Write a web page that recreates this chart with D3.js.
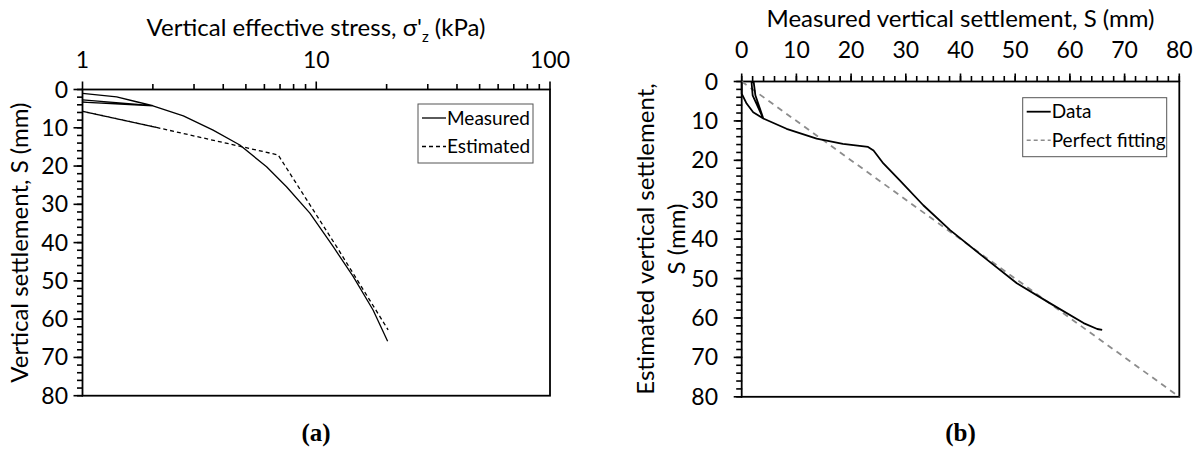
<!DOCTYPE html>
<html>
<head>
<meta charset="utf-8">
<script src="https://cdn.jsdelivr.net/npm/d3@7"></script>
<style>
  body { margin: 0; background: #fff; }
  svg { display: block; }
  text { font-family: Lato, "Open Sans", sans-serif; fill: #000; }
</style>
</head>
<body>
<svg id="chart" width="1198" height="453"></svg>
<script>
// (a) settlement vs stress, log x
var stressTicks = [1, 10, 100];
var settleTicks = [0, 10, 20, 30, 40, 50, 60, 70, 80];
var measuredStress = [1, 1.4, 1.7, 2, 1, 2, 1, 2, 2.7, 3.62, 4.71, 6.13, 7.46, 9.39, 11.8, 14.4, 17.5, 20.2];
var measuredSettle = [1.0, 1.9, 3.2, 4.2, 2.7, 4.2, 3.3, 4.3, 6.9, 10.6, 14.5, 20.2, 25.4, 32.3, 41.0, 48.9, 57.6, 65.8];
var estimatedStress = [1, 2.07, 1, 2.07, 1, 2.07, 6.87, 12.2, 20.3];
var estimatedSettle = [5.7, 9.9, 5.7, 9.9, 5.7, 9.9, 17.1, 41.0, 62.8];

// (b) estimated vs measured
var sTicks = [0, 10, 20, 30, 40, 50, 60, 70, 80];
var dataMeasured = [0, 0, 0.9, 2.1, 3.95, 2.0, 1.8, 2.2, 2.5, 3.95, 8.2, 13.7, 18.5, 23.1, 24.1, 25.9, 28.9, 33.2, 38.1, 44.2, 50.3, 56.4, 62.5, 65.0, 65.9];
var dataEstimated = [0, 3.1, 5.6, 7.8, 9.4, 3.5, 0.2, 0.2, 3.5, 9.4, 12.0, 14.5, 15.8, 16.6, 17.5, 20.8, 25.1, 31.4, 37.7, 44.5, 51.2, 56.3, 61.3, 62.8, 63.0];
var perfectLine = [0, 80];

var svg = d3.select('#chart');
svg.append('rect').attr('width', 1198).attr('height', 453).attr('fill', '#fff');

var TICK_FS = 23;
var TITLE_FS = 24;
var LEG_FS = 19;

var minorStress = [];
[1, 10].forEach(function(d) { for(var k = 2; k <= 9; k++) minorStress.push(d * k); });

var xa = d3.scaleLog().domain([1, 100]).range([82.5, 550]);
var ya = d3.scaleLinear().domain([0, 80]).range([89.5, 395.7]);
var xb = d3.scaleLinear().domain([0, 80]).range([741.7, 1179.3]);
var yb = d3.scaleLinear().domain([0, 80]).range([81.5, 396.8]);

function topLabels(g, scale, values, y) {
    g.append('g').selectAll('text').data(values).enter().append('text')
        .attr('x', function(v) { return scale(v); }).attr('y', y)
        .attr('text-anchor', 'middle').attr('font-size', TICK_FS)
        .text(function(v) { return String(v); });
}
function leftLabels(g, scale, values, x) {
    g.append('g').selectAll('text').data(values).enter().append('text')
        .attr('x', x).attr('y', function(v) { return scale(v); })
        .attr('dy', '0.35em').attr('text-anchor', 'end').attr('font-size', TICK_FS)
        .text(function(v) { return String(v); });
}
function topTicks(g, scale, values, y, len) {
    g.append('g').selectAll('line').data(values).enter().append('line')
        .attr('x1', function(v) { return scale(v); }).attr('x2', function(v) { return scale(v); })
        .attr('y1', y + 0.5).attr('y2', y - len)
        .attr('stroke', '#000').attr('stroke-width', 1.6);
}
function leftTicks(g, scale, values, x, len) {
    g.append('g').selectAll('line').data(values).enter().append('line')
        .attr('y1', function(v) { return scale(v); }).attr('y2', function(v) { return scale(v); })
        .attr('x1', x + 0.5).attr('x2', x - len)
        .attr('stroke', '#000').attr('stroke-width', 1.6);
}
function frame(g, xs, ys) {
    var r = xs.range(), s = ys.range();
    g.append('rect').attr('x', r[0]).attr('y', s[0])
        .attr('width', r[1] - r[0]).attr('height', s[1] - s[0])
        .attr('fill', 'none').attr('stroke', '#000').attr('stroke-width', 1.8);
}

function legend(g, x, y, w, h, items) {
    g.append('rect').attr('x', x).attr('y', y).attr('width', w).attr('height', h)
        .attr('fill', '#fff').attr('stroke', '#555').attr('stroke-width', 1);
    items.forEach(function(it, i) {
        var ly = y + 14 + i * 28.5;
        g.append('line').attr('x1', x + 4).attr('x2', x + 28).attr('y1', ly).attr('y2', ly)
            .attr('stroke', it.color).attr('stroke-width', it.width)
            .attr('stroke-dasharray', it.dash || null);
        g.append('text').attr('x', x + 29).attr('y', ly + 6.5).attr('font-size', LEG_FS).text(it.name);
    });
}

// ---------- panel (a) ----------
var ga = svg.append('g');

topTicks(ga, xa, minorStress, 89.5, 5.5);
topTicks(ga, xa, stressTicks, 89.5, 8);
leftTicks(ga, ya, d3.range(0, 81, 2), 82.5, 5.5);
leftTicks(ga, ya, settleTicks, 82.5, 9);
frame(ga, xa, ya);
topLabels(ga, xa, stressTicks, 68);
leftLabels(ga, ya, settleTicks, 68);

var lineA = d3.line().x(function(d) { return xa(d[0]); }).y(function(d) { return ya(d[1]); });
ga.append('path')
    .datum(measuredStress.map(function(s, i) { return [s, measuredSettle[i]]; }))
    .attr('d', lineA).attr('fill', 'none').attr('stroke', '#000').attr('stroke-width', 1.3)
    .attr('stroke-linejoin', 'round');
ga.append('path')
    .datum(estimatedStress.map(function(s, i) { return [s, estimatedSettle[i]]; }))
    .attr('d', lineA).attr('fill', 'none').attr('stroke', '#000').attr('stroke-width', 1.3)
    .attr('stroke-dasharray', '4,3');

var ta = ga.append('text').attr('x', 316).attr('y', 36).attr('text-anchor', 'middle').attr('font-size', TITLE_FS);
ta.append('tspan').text('Vertical effective stress, \u03c3\'');
ta.append('tspan').attr('font-size', 15).attr('dy', 6).text('z');
ta.append('tspan').attr('dy', -6).text(' (kPa)');

ga.append('text').attr('transform', 'translate(28,242.6) rotate(-90)')
    .attr('text-anchor', 'middle').attr('font-size', TITLE_FS).text('Vertical settlement, S (mm)');

legend(ga, 418, 104, 115, 59, [
    {name: 'Measured', color: '#000', width: 1.3},
    {name: 'Estimated', color: '#000', width: 1.3, dash: '4,3'}
]);

ga.append('text').attr('x', 316).attr('y', 441).attr('text-anchor', 'middle')
    .style('font-family', '"Liberation Serif", serif').attr('font-weight', 'bold').attr('font-size', 25).text('(a)');

// ---------- panel (b) ----------
var gb = svg.append('g');

topTicks(gb, xb, d3.range(0, 81, 2), 81.5, 5.5);
topTicks(gb, xb, sTicks, 81.5, 8);
leftTicks(gb, yb, d3.range(0, 81, 2), 741.7, 5.5);
leftTicks(gb, yb, sTicks, 741.7, 8);
frame(gb, xb, yb);
topLabels(gb, xb, sTicks, 58);
leftLabels(gb, yb, sTicks, 718);

var lineB = d3.line().x(function(d) { return xb(d[0]); }).y(function(d) { return yb(d[1]); });
gb.append('path')
    .datum(perfectLine.map(function(v) { return [v, v]; }))
    .attr('d', lineB).attr('fill', 'none').attr('stroke', '#8c8c8c').attr('stroke-width', 1.8)
    .attr('stroke-dasharray', '6,5');
gb.append('path')
    .datum(dataMeasured.map(function(m, i) { return [m, dataEstimated[i]]; }))
    .attr('d', lineB).attr('fill', 'none').attr('stroke', '#000').attr('stroke-width', 1.8)
    .attr('stroke-linejoin', 'round');

gb.append('text').attr('x', 960.5).attr('y', 27).attr('text-anchor', 'middle').attr('font-size', TITLE_FS)
    .text('Measured vertical settlement, S (mm)');

var yl = gb.append('text').attr('transform', 'translate(662,239) rotate(-90)')
    .attr('text-anchor', 'middle').attr('font-size', TITLE_FS);
yl.append('tspan').attr('x', 0).attr('dy', -8).text('Estimated vertical settlement,');
yl.append('tspan').attr('x', 0).attr('dy', 31).text('S (mm)');

legend(gb, 1022.7, 97.7, 144, 59, [
    {name: 'Data', color: '#000', width: 1.8},
    {name: 'Perfect fitting', color: '#8c8c8c', width: 1.5, dash: '4,3'}
]);

gb.append('text').attr('x', 960.5).attr('y', 441).attr('text-anchor', 'middle')
    .style('font-family', '"Liberation Serif", serif').attr('font-weight', 'bold').attr('font-size', 25).text('(b)');
</script>
</body>
</html>
